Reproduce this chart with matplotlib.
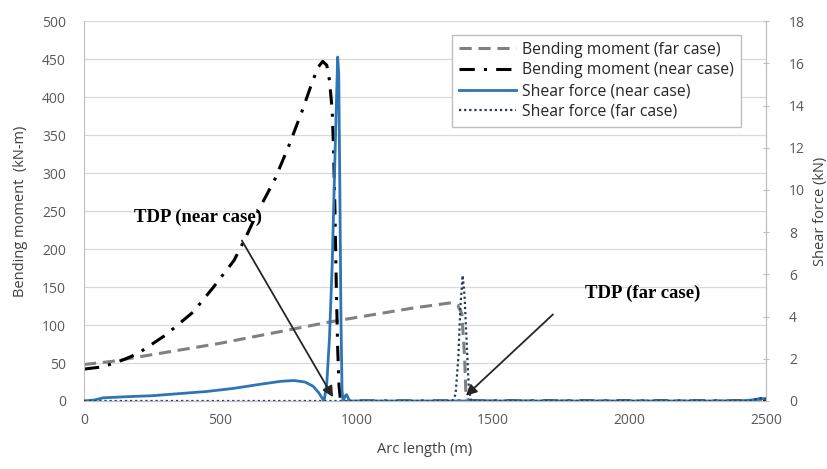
import numpy as np
import matplotlib.pyplot as plt

# bending moment (kN-m), left axis
bm_near_x = [0, 70, 150, 200, 300, 400, 475, 550, 590, 634, 700, 750, 800, 840, 860, 875,
             890, 900, 910, 915, 920, 925, 930, 935, 940, 950, 1500, 2500]
bm_near_y = [42, 45, 55, 63, 87, 117, 150, 185, 213, 247, 292, 335, 382, 423, 440, 447,
             442, 422, 382, 330, 250, 150, 70, 20, 2, 0, 0, 0]

bm_far_x = [0, 100, 200, 300, 400, 500, 600, 700, 800, 900, 1000, 1100, 1200, 1300,
            1340, 1370, 1385, 1395, 1400, 1410, 2000, 2500]
bm_far_y = [48, 52, 58, 64, 70, 76, 83, 90, 97, 104, 110, 116, 122, 127,
            129, 126, 115, 60, 10, 0, 0, 0]

# shear force (kN), right axis
sf_near_x = [0, 40, 70, 150, 250, 350, 450, 550, 650, 720, 770, 810, 840, 860, 875, 880,
             890, 900, 910, 920, 930, 934, 938, 942, 946, 950, 958, 963, 968, 975,
             2400, 2450, 2480, 2500]
sf_near_y = [0, 0.05, 0.15, 0.2, 0.25, 0.35, 0.45, 0.6, 0.8, 0.93, 0.97, 0.9, 0.7, 0.4, 0.1, 0,
             0.8, 3, 6.5, 11.5, 16.3, 15.5, 10, 4, 0.5, 0, 0.25, 0.3, 0.15, 0,
             0, 0.05, 0.12, 0.1]

sf_far_x = [0, 1350, 1362, 1372, 1380, 1388, 1395, 1402, 1410, 1418, 2440, 2470, 2490, 2500]
sf_far_y = [0, 0, 0.3, 2, 4.5, 5.95, 5, 3, 0.8, 0, 0, 0.1, 0.15, 0.1]

fig = plt.figure(figsize=(8.28, 4.69), dpi=100)
ax = fig.add_axes([0.1014, 0.145, 0.8237, 0.81])
ax2 = ax.twinx()

tc = '#595959'
font = 'Open Sans'

l1, = ax.plot(bm_far_x, bm_far_y, color='#808080', lw=2.2, dashes=(4, 2.2),
              label='Bending moment (far case)')
l2, = ax.plot(bm_near_x, bm_near_y, color='black', lw=2.2, dashes=(5, 3, 1, 3),
              label='Bending moment (near case)')
l3, = ax2.plot(sf_near_x, sf_near_y, color='#2E75B6', lw=2,
               label='Shear force (near case)')
l4, = ax2.plot(sf_far_x, sf_far_y, color='#1F3864', lw=1.6, ls=(0, (1, 1.3)),
               label='Shear force (far case)')

ax.set_xlim(0, 2500)
ax.set_ylim(0, 500)
ax2.set_ylim(0, 18)
ax.set_xticks(np.arange(0, 2501, 500))
ax.set_yticks(np.arange(0, 501, 50))
ax2.set_yticks(np.arange(0, 19, 2))
ax.yaxis.grid(True, color='#d9d9d9', lw=0.9)
ax.set_axisbelow(True)

for a in (ax, ax2):
    for s in a.spines.values():
        s.set_color('#bfbfbf')
    a.spines['top'].set_visible(False)
    a.tick_params(colors=tc, labelsize=10, length=0)
    for lab in a.get_xticklabels() + a.get_yticklabels():
        lab.set_fontfamily(font)
ax.tick_params(axis='y', pad=13)
ax.tick_params(axis='x', pad=9)
ax2.tick_params(axis='y', length=5, direction='inout', color='#bfbfbf', colors=tc, pad=14)
ax2.spines['left'].set_visible(False)

ax.set_xlabel('Arc length (m)', fontsize=10.5, color='#404040', fontfamily=font, labelpad=10)
ax.set_ylabel('Bending moment  (kN-m)', fontsize=10.5, color='#404040', fontfamily=font,
              labelpad=10)
ax2.set_ylabel('Shear force (kN)', fontsize=10.5, color='#404040', fontfamily=font,
               labelpad=6)

leg = ax2.legend(handles=[l1, l2, l3, l4], loc='upper right', bbox_to_anchor=(0.975, 0.985),
                 prop={'family': font, 'size': 11.3}, fancybox=False, framealpha=1,
                 edgecolor='#bfbfbf', handlelength=3.6, handletextpad=0.4,
                 labelspacing=0.3, borderpad=0.45)
for t in leg.get_texts():
    t.set_color('#262626')

arrow = dict(arrowstyle='-|>', color='#262626', lw=1.3, mutation_scale=16,
             shrinkA=0, shrinkB=0)
ax2.text(418, 8.7, 'TDP (near case)', ha='center', va='center', fontsize=13.5,
         fontweight='bold', fontfamily='Liberation Serif')
ax2.annotate('', xy=(913, 0.18), xytext=(579, 7.6), arrowprops=arrow)
ax2.text(2049, 5.1, 'TDP (far case)', ha='center', va='center', fontsize=13.5,
         fontweight='bold', fontfamily='Liberation Serif')
ax2.annotate('', xy=(1400, 0.25), xytext=(1719, 4.1), arrowprops=arrow)

fig.savefig('out.png', dpi=100)
